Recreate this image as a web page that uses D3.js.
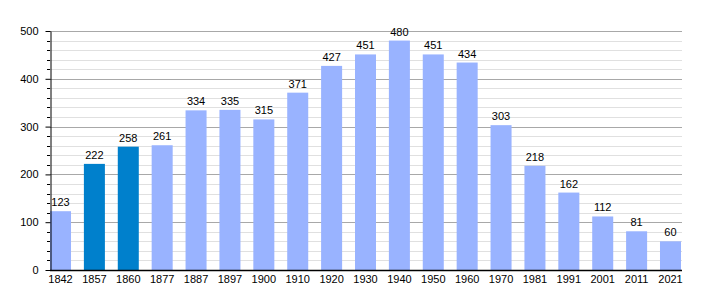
<!DOCTYPE html>
<html>
<head>
<meta charset="utf-8">
<script src="https://cdn.jsdelivr.net/npm/d3@7"></script>
<style>
  body { margin: 0; background: #fff; }
  text { font-family: "Liberation Sans", Arial, sans-serif; }
</style>
</head>
<body>
<div id="chart"></div>
<script>
// population per census year
let years = ["1842", "1857", "1860", "1877", "1887", "1897", "1900", "1910", "1920", "1930",
             "1940", "1950", "1960", "1970", "1981", "1991", "2001", "2011", "2021"];
let population = [123, 222, 258, 261, 334, 335, 315, 371, 427, 451,
                  480, 451, 434, 303, 218, 162, 112, 81, 60];
// years drawn in the darker colour
let highlighted = ["1857", "1860"];
let yTicks = [0, 100, 200, 300, 400, 500];

let margin = {top: 31, right: 29, bottom: 30, left: 50},
  width = 710 - margin.left - margin.right,
  height = 300 - margin.top - margin.bottom;

let svg = d3.select("#chart")
  .append("svg")
  .attr("width", 710)
  .attr("height", 300)
  .append("g")
  .attr("transform", "translate(" + margin.left + "," + margin.top + ")");

let x = d3.scaleBand()
  .domain(years)
  .range([0, width])
  .paddingInner(0.38)
  .paddingOuter(0);

let y = d3.scaleLinear()
  .domain([0, 500])
  .range([height, 0]);

// minor grid lines every 20
svg.append("g")
  .selectAll("line")
  .data(d3.range(20, 500, 20).filter(v => v % 100 != 0))
  .enter().append("line")
    .attr("x1", 0)
    .attr("x2", width + 1)
    .attr("y1", d => Math.round(y(d)) + 0.5)
    .attr("y2", d => Math.round(y(d)) + 0.5)
    .style("stroke", "#e0e0e0");

// major grid lines
svg.append("g")
  .selectAll("line")
  .data(yTicks.slice(1))
  .enter().append("line")
    .attr("x1", 0)
    .attr("x2", width + 1)
    .attr("y1", d => Math.round(y(d)) + 0.5)
    .attr("y2", d => Math.round(y(d)) + 0.5)
    .style("stroke", "#a8a8a8");

// bars
svg.append("g")
  .selectAll("rect")
  .data(years)
  .enter().append("rect")
    .attr("x", d => x(d))
    .attr("width", x.bandwidth())
    .attr("y", (d, i) => y(population[i]))
    .attr("height", (d, i) => height - y(population[i]))
    .style("fill", d => highlighted.includes(d) ? "#0080cc" : "#99b3ff");

// value labels
svg.append("g")
  .selectAll("text")
  .data(years)
  .enter().append("text")
    .attr("x", d => x(d) + x.bandwidth() / 2)
    .attr("y", (d, i) => y(population[i]) - 5)
    .attr("text-anchor", "middle")
    .style("font-size", "11px")
    .style("fill", "#000")
    .text((d, i) => population[i]);

// y axis minor ticks
svg.append("g")
  .selectAll("line")
  .data(d3.range(20, 500, 20).filter(v => v % 100 != 0))
  .enter().append("line")
    .attr("x1", -3)
    .attr("x2", 0)
    .attr("y1", d => Math.round(y(d)) + 0.5)
    .attr("y2", d => Math.round(y(d)) + 0.5)
    .style("stroke", "#000");

// y axis
let yAxis = svg.append("g")
  .attr("transform", "translate(0.5,0)")
  .call(d3.axisLeft(y).tickValues(yTicks).tickSize(5).tickPadding(7).tickSizeOuter(0));
yAxis.selectAll("text").style("font-size", "11px").style("fill", "#000")
  .style("font-family", "'Liberation Sans', Arial, sans-serif");

// x axis
let xAxis = svg.append("g")
  .attr("transform", "translate(0," + (height + 0.5) + ")")
  .call(d3.axisBottom(x).tickSize(0).tickSizeOuter(0).tickPadding(5));
xAxis.select(".domain").attr("d", "M0,0H" + (width + 1)).style("stroke-width", 1.5);
xAxis.selectAll("text").style("font-size", "11px").style("fill", "#000")
  .style("font-family", "'Liberation Sans', Arial, sans-serif");
</script>
</body>
</html>
